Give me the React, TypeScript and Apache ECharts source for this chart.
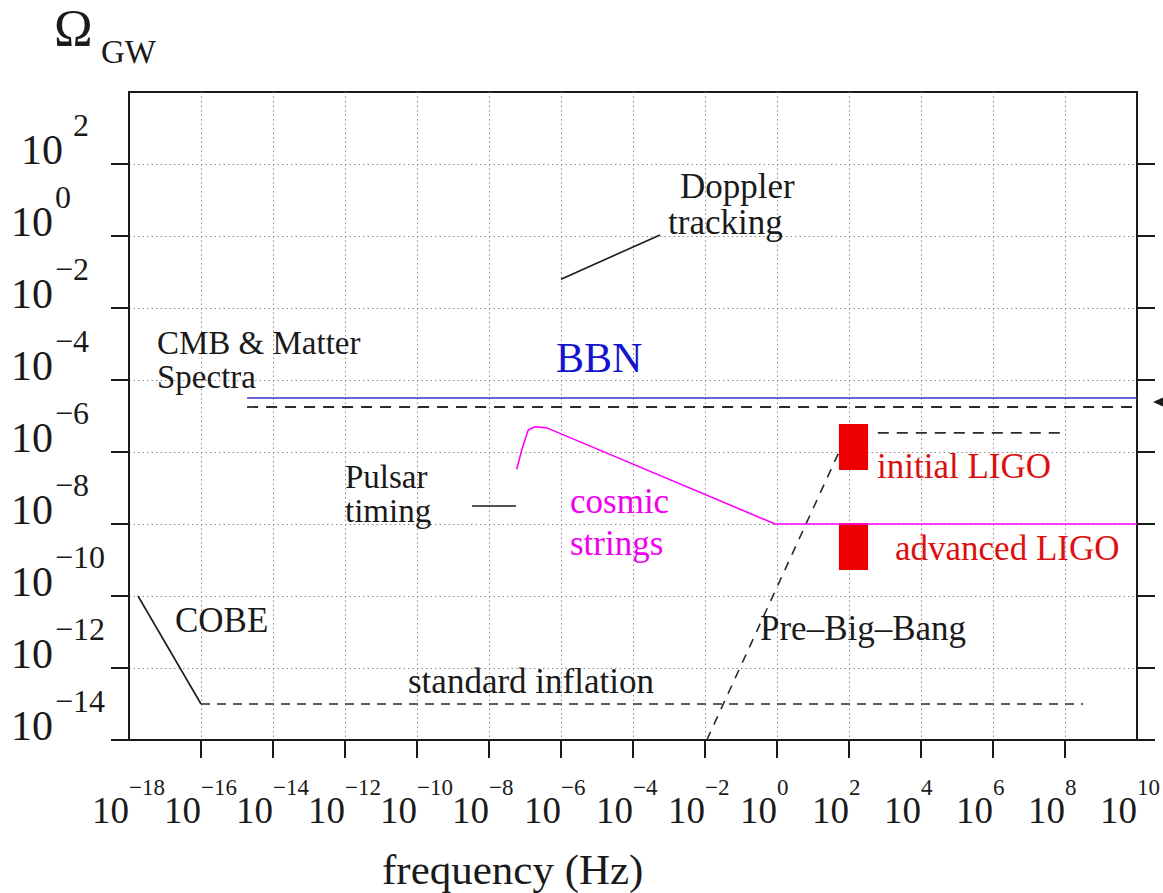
import React, { useEffect, useRef } from "react";
import * as echarts from "echarts";

const FONT = '"Liberation Serif", "Times New Roman", serif';

// Axis decades (log10 of frequency in Hz and of Omega_GW)
const xLabelExps = [-18, -16, -14, -12, -10, -8, -6, -4, -2, 0, 2, 4, 6, 8, 10];
const xTickExps = [-16, -14, -12, -10, -8, -6, -4, -2, 0, 2, 4, 6, 8];
const yLabelExps = [-14, -12, -10, -8, -6, -4, -2, 0, 2];

// Curves and bounds, as [log10 f, log10 Omega]
const bbnBound = [[-14.72, -4.5], [10, -4.5]];
const cmbMatterBound = [[-14.72, -4.75], [10, -4.75]];
const cosmicStrings = [
  [-7.23, -6.48], [-7.09, -5.94], [-6.91, -5.39], [-6.72, -5.3],
  [-6.39, -5.33], [-0.05, -8], [10, -8],
];
const pulsarTiming = [[-8.47, -7.5], [-7.25, -7.5]];
const dopplerTracking = [[-6, -1.2], [-3.25, 0.03]];
const cobe = [[-17.75, -10], [-16, -13]];
const standardInflation = [[-16, -13], [8.5, -13]];
const preBigBang = [[-1.95, -14], [1.7, -6.05]];
const initialLigoReach = [[2.8, -5.47], [7.95, -5.47]];
// LIGO sensitivity boxes: [f0, f1, top, bottom]
const ligoBoxes = [
  [1.72, 2.53, -5.22, -6.5],
  [1.72, 2.53, -7.97, -9.28],
];

const sup = (e: number) => (e < 0 ? "\u2212" + Math.abs(e) : String(e));

const INK = "#1a1a1a";

const lineSeries = (name: string, data: number[][], color: string, type: any = "solid", width = 1.6) => ({
  type: "line",
  name,
  data,
  xAxisIndex: 0,
  yAxisIndex: 0,
  symbol: "none",
  showSymbol: false,
  silent: true,
  z: 3,
  lineStyle: { color, width, type },
});

const txt = (text: string, x: number, y: number, size: number, fill = INK, lineHeight?: number) => ({
  type: "text",
  x,
  y,
  silent: true,
  z: 10,
  style: {
    text,
    fill,
    font: `${size}px ${FONT}`,
    lineHeight: lineHeight ?? size,
    align: "left",
    verticalAlign: "middle",
  },
});

export default function App() {
  const ref = useRef<HTMLDivElement>(null);

  useEffect(() => {
    const chart = echarts.init(ref.current!, null, { renderer: "svg" });

    const axisLineStyle = { color: INK, width: 2 };
    const gridLine = { show: true, lineStyle: { color: "#8a8a8a", width: 1, type: [1.5, 3] } };

    // Base "10" and its exponent are drawn by two overlaid axes so the exponent sits raised.
    const option: any = {
      animation: false,
      backgroundColor: "#ffffff",
      grid: {
        left: 129,
        top: 92,
        width: 1008,
        height: 648,
        show: true,
        borderColor: INK,
        borderWidth: 2,
        backgroundColor: "transparent",
      },
      xAxis: [
        {
          type: "value",
          position: "bottom",
          min: -18,
          max: 10,
          interval: 2,
          axisLine: { show: true, onZero: false, lineStyle: axisLineStyle },
          axisTick: { show: true, inside: false, length: 18, customValues: xTickExps, lineStyle: axisLineStyle },
          splitLine: gridLine,
          axisLabel: {
            show: true,
            customValues: xLabelExps,
            interval: 0,
            showMinLabel: true,
            showMaxLabel: true,
            hideOverlap: false,
            margin: 52,
            align: "right",
            verticalAlign: "top",
            fontFamily: FONT,
            fontSize: 37,
            lineHeight: 37,
            color: INK,
            formatter: () => "10",
          },
        },
        {
          type: "value",
          position: "bottom",
          offset: 0,
          min: -18,
          max: 10,
          interval: 2,
          axisLine: { show: false },
          axisTick: { show: false },
          splitLine: { show: false },
          axisLabel: {
            show: true,
            customValues: xLabelExps,
            interval: 0,
            showMinLabel: true,
            showMaxLabel: true,
            hideOverlap: false,
            margin: 36,
            align: "left",
            verticalAlign: "top",
            fontFamily: FONT,
            fontSize: 23,
            lineHeight: 23,
            color: INK,
            formatter: (v: number) => sup(Math.round(v)),
          },
        },
      ],
      yAxis: [
        {
          type: "value",
          position: "left",
          min: -14,
          max: 4,
          interval: 2,
          axisLine: { show: true, onZero: false, lineStyle: axisLineStyle },
          axisTick: { show: true, inside: false, length: 18, customValues: yLabelExps, lineStyle: axisLineStyle },
          splitLine: gridLine,
          axisLabel: {
            show: true,
            customValues: yLabelExps,
            interval: 0,
            showMinLabel: true,
            showMaxLabel: true,
            hideOverlap: false,
            margin: 118,
            align: "left",
            verticalAlign: "bottom",
            formatter: (v: number) => (Math.round(v) === 2 ? "{m|10}" : "{n|10}"),
            rich: {
              n: { fontFamily: FONT, fontSize: 42, lineHeight: 28, color: INK },
              m: { fontFamily: FONT, fontSize: 42, lineHeight: 28, color: INK, padding: [0, 0, 0, 10] },
            },
          },
        },
        {
          type: "value",
          position: "left",
          offset: 0,
          min: -14,
          max: 4,
          interval: 2,
          axisLine: { show: false },
          axisTick: { show: false },
          splitLine: { show: false },
          axisLabel: {
            show: true,
            customValues: yLabelExps,
            interval: 0,
            showMinLabel: true,
            showMaxLabel: true,
            hideOverlap: false,
            margin: 74,
            align: "left",
            verticalAlign: "bottom",
            formatter: (v: number) => {
              const e = Math.round(v);
              return e === 2 ? `{m|${sup(e)}}` : `{n|${sup(e)}}`;
            },
            rich: {
              n: { fontFamily: FONT, fontSize: 32, lineHeight: 78, color: INK },
              m: { fontFamily: FONT, fontSize: 32, lineHeight: 78, color: INK, padding: [0, 0, 0, 18] },
            },
          },
        },
        {
          type: "value",
          position: "right",
          min: -14,
          max: 4,
          interval: 2,
          axisLine: { show: true, onZero: false, lineStyle: axisLineStyle },
          axisTick: { show: true, inside: false, length: 18, customValues: yLabelExps, lineStyle: axisLineStyle },
          splitLine: { show: false },
          axisLabel: { show: false },
        },
      ],
      series: [
        {
          type: "custom",
          name: "LIGO",
          xAxisIndex: 0,
          yAxisIndex: 0,
          silent: true,
          z: 2,
          encode: { x: [0, 1], y: [2, 3] },
          data: ligoBoxes,
          renderItem: (_params: any, api: any) => {
            const p0 = api.coord([api.value(0), api.value(2)]);
            const p1 = api.coord([api.value(1), api.value(3)]);
            return {
              type: "rect",
              shape: { x: p0[0], y: p0[1], width: p1[0] - p0[0], height: p1[1] - p0[1] },
              style: { fill: "#ee0000" },
            };
          },
        },
        lineSeries("BBN", bbnBound, "#3535c8", "solid", 1.6),
        lineSeries("CMB & Matter Spectra", cmbMatterBound, "#2a2a2a", [11, 8], 1.8),
        lineSeries("cosmic strings", cosmicStrings, "#ff00ff", "solid", 1.6),
        lineSeries("Pulsar timing", pulsarTiming, INK, "solid", 1.6),
        lineSeries("Doppler tracking", dopplerTracking, INK, "solid", 1.6),
        lineSeries("COBE", cobe, INK, "solid", 1.6),
        lineSeries("standard inflation", standardInflation, "#2a2a2a", [9, 7], 1.6),
        lineSeries("Pre-Big-Bang", preBigBang, "#2a2a2a", [9, 8], 1.6),
        lineSeries("initial LIGO reach", initialLigoReach, "#2a2a2a", [11, 8], 1.6),
      ],
      graphic: {
        elements: [
          txt("\u03A9", 54, 28, 52),
          txt("GW", 101, 52, 33),
          txt("frequency (Hz)", 382, 869.5, 43),
          txt("CMB & Matter", 157, 342.5, 33),
          txt("Spectra", 157, 376.5, 33),
          txt("BBN", 556, 358, 42, "#1414cc"),
          txt("Doppler", 680, 186, 35),
          txt("tracking", 668, 222, 35),
          txt("Pulsar", 345, 477, 33),
          txt("timing", 345, 511, 33),
          txt("cosmic", 570, 501, 35, "#f000f0"),
          txt("strings", 570, 543, 35, "#f000f0"),
          txt("initial LIGO", 877, 466, 35, "#dd1010"),
          txt("advanced LIGO", 895, 548, 35, "#dd1010"),
          txt("COBE", 175, 620, 35),
          txt("standard inflation", 408, 681, 35),
          txt("Pre\u2013Big\u2013Bang", 760, 628, 35),
          {
            type: "polygon",
            silent: true,
            z: 10,
            shape: { points: [[1153, 402], [1166, 396], [1166, 408]] },
            style: { fill: INK },
          },
        ],
      },
    };

    chart.setOption(option);
    return () => chart.dispose();
  }, []);

  return (
    <div
      ref={ref}
      style={{ position: "fixed", left: 0, top: 0, width: 1163, height: 893, background: "#ffffff" }}
    />
  );
}
